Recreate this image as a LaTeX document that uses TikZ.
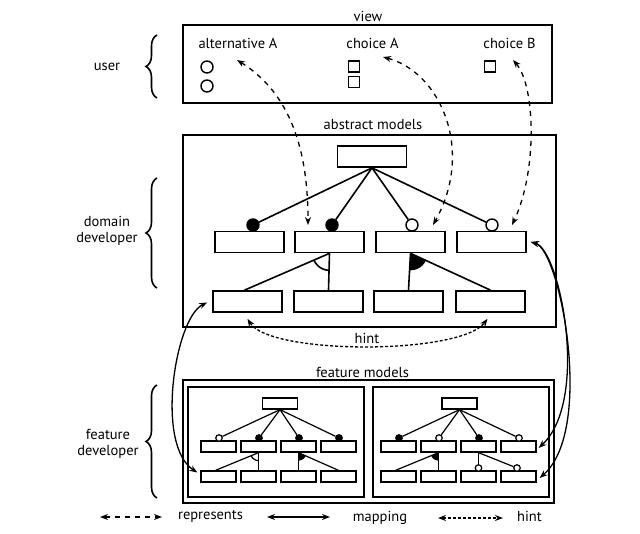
\documentclass[tikz,border=0pt]{standalone}
\usepackage{fontspec}
\setmainfont{PT Sans}
\usetikzlibrary{arrows.meta,decorations.pathreplacing}

\begin{document}
\begin{tikzpicture}[x=1pt, y=-1pt,
        font=\fontsize{14.5}{16}\selectfont,
        >={Stealth[length=8pt,width=6pt]},
        panel/.style={rectangle, draw, line width=1.7pt, inner sep=0pt},
        box/.style={rectangle, draw, line width=1.7pt, minimum width=69pt, minimum height=21pt, inner sep=0pt},
        minibox/.style={rectangle, draw, line width=1.3pt, minimum width=35pt, minimum height=11pt, inner sep=0pt},
        mand/.style={circle, draw, fill=black, line width=1.4pt, minimum size=12pt, inner sep=0pt},
        opt/.style={mand, fill=white},
        minimand/.style={circle, draw, fill=black, line width=1.2pt, minimum size=6.5pt, inner sep=0pt},
        miniopt/.style={minimand, fill=white},
        radio/.style={circle, draw, line width=1.4pt, minimum size=12pt, inner sep=0pt},
        check/.style={rectangle, draw, line width=1.4pt, minimum size=11pt, inner sep=0pt},
        link/.style={line width=1.6pt},
        minilink/.style={line width=1.2pt},
        represents/.style={<->, line width=1.3pt, dash pattern=on 5pt off 5pt},
        mapping/.style={<->, line width=1.3pt},
        hint/.style={<->, line width=1.3pt, dash pattern=on 3pt off 2pt},
        sidebrace/.style={decorate, decoration={brace, amplitude=11pt}, line width=1.6pt}
    ]
        \useasboundingbox (0,0) rectangle (640,533);

        % roles
        \node (user) at (107,67) {user};
        \node[align=center] (domdev) at (107,231) {domain\\developer};
        \node[align=center] (featdev) at (108,444) {feature\\developer};
        \draw[sidebrace] (157,98) -- (157,35);
        \draw[sidebrace] (157,288) -- (157,178);
        \draw[sidebrace] (157,498) -- (157,385);

        % view
        \node[panel, minimum width=369pt, minimum height=78pt] (view) at (367.5,64) {};
        \node (viewlabel) at (368,16) {view};
        \node (altA) at (238,43) {alternative A};
        \node (choiceA) at (372.5,43) {choice A};
        \node (choiceB) at (509.5,43) {choice B};
        \node[radio] (radio1) at (207,67) {};
        \node[radio] (radio2) at (207,86) {};
        \node[check] (checkA1) at (354,66.5) {};
        \node[check] (checkA2) at (354,82) {};
        \node[check] (checkB) at (490,66.5) {};

        % abstract models
        \node[panel, minimum width=373pt, minimum height=192pt] (abstract) at (369.5,231) {};
        \node (abstractlabel) at (373,125) {abstract models};
        \node[box] (root) at (372,156.5) {};
        \node[box] (a1) at (249.5,242) {};
        \node[box] (a2) at (329.5,242) {};
        \node[box] (a3) at (410.5,242) {};
        \node[box] (a4) at (491.5,242) {};
        \node[box] (c1) at (247.5,301.5) {};
        \node[box] (c2) at (328.5,301.5) {};
        \node[box] (c3) at (408.5,301.5) {};
        \node[box] (c4) at (490.5,301.5) {};
        \node[mand] (m1) at (253,225) {};
        \node[mand] (m2) at (332,225) {};
        \node[opt] (m3) at (412,225) {};
        \node[opt] (m4) at (492,225) {};
        \draw[link] (root.south) -- (m1);
        \draw[link] (root.south) -- (m2);
        \draw[link] (root.south) -- (m3);
        \draw[link] (root.south) -- (m4);
        \draw[link] (a2.south) -- ([xshift=-3pt]c1.north);
        \draw[link] (a2.south) -- (c2.north);
        \draw[link] (a3.south) -- (c3.north);
        \draw[link] (a3.south) -- (c4.north);
        \begin{scope}
            \clip (a2.south) -- ([xshift=-3pt]c1.north) -- (c2.north) -- cycle;
            \draw[link] (a2.south) circle[radius=17];
        \end{scope}
        \begin{scope}
            \clip (a3.south) -- (c3.north) -- (c4.north) -- cycle;
            \fill (a3.south) circle[radius=17];
        \end{scope}

        % feature models
        \node[panel, line width=1.4pt, minimum width=371pt, minimum height=123pt] (features) at (368.5,441.5) {};
        \node (featurelabel) at (362.5,372) {feature models};
        \node[panel, line width=1.4pt, minimum width=176pt, minimum height=110pt] (fmleft) at (276,442) {};
        \node[panel, line width=1.4pt, minimum width=176pt, minimum height=110pt] (fmright) at (461,442) {};

        % left feature model
        \node[minibox] (lroot) at (280,403.5) {};
        \node[minibox] (l1) at (218.5,446.5) {};
        \node[minibox] (l2) at (258.5,446.5) {};
        \node[minibox] (l3) at (298.5,446.5) {};
        \node[minibox] (l4) at (338.5,446.5) {};
        \node[minibox] (lc1) at (218.5,476.5) {};
        \node[minibox] (lc2) at (258.5,476.5) {};
        \node[minibox] (lc3) at (298.5,476.5) {};
        \node[minibox] (lc4) at (338.5,476.5) {};
        \node[miniopt] (lm1) at (219,438) {};
        \node[minimand] (lm2) at (259,438) {};
        \node[minimand] (lm3) at (299,438) {};
        \node[minimand] (lm4) at (339,438) {};
        \draw[minilink] (lroot.south) -- (lm1);
        \draw[minilink] (lroot.south) -- (lm2);
        \draw[minilink] (lroot.south) -- (lm3);
        \draw[minilink] (lroot.south) -- (lm4);
        \draw[minilink] (l2.south) -- ([xshift=-3pt]lc1.north);
        \draw[minilink] (l2.south) -- (lc2.north);
        \draw[minilink] (l3.south) -- (lc3.north);
        \draw[minilink] (l3.south) -- (lc4.north);
        \begin{scope}
            \clip (l2.south) -- ([xshift=-3pt]lc1.north) -- (lc2.north) -- cycle;
            \draw[minilink] (l2.south) circle[radius=8];
        \end{scope}
        \begin{scope}
            \clip (l3.south) -- (lc3.north) -- (lc4.north) -- cycle;
            \fill (l3.south) circle[radius=8];
        \end{scope}

        % right feature model
        \node[minibox] (rroot) at (459.5,403.5) {};
        \node[minibox] (r1) at (398.5,446.5) {};
        \node[minibox] (r2) at (438.5,446.5) {};
        \node[minibox] (r3) at (478.5,446.5) {};
        \node[minibox] (r4) at (518.5,446.5) {};
        \node[minibox] (rc1) at (398.5,476.5) {};
        \node[minibox] (rc2) at (438.5,476.5) {};
        \node[minibox] (rc3) at (478.5,476.5) {};
        \node[minibox] (rc4) at (518.5,476.5) {};
        \node[minimand] (rm1) at (399,438) {};
        \node[miniopt] (rm2) at (439,438) {};
        \node[minimand] (rm3) at (479,438) {};
        \node[miniopt] (rm4) at (519,438) {};
        \node[miniopt] (rm5) at (478.5,468) {};
        \node[miniopt] (rm6) at (517,468) {};
        \draw[minilink] (rroot.south) -- (rm1);
        \draw[minilink] (rroot.south) -- (rm2);
        \draw[minilink] (rroot.south) -- (rm3);
        \draw[minilink] (rroot.south) -- (rm4);
        \draw[minilink] (r2.south) -- ([xshift=-3pt]rc1.north);
        \draw[minilink] (r2.south) -- (rc2.north);
        \draw[minilink] (r3.south) -- (rm5);
        \draw[minilink] (r3.south) -- (rm6);
        \begin{scope}
            \clip (r2.south) -- ([xshift=-3pt]rc1.north) -- (rc2.north) -- cycle;
            \fill (r2.south) circle[radius=8];
        \end{scope}

        % represents
        \coordinate (pAltA) at (237,60);
        \coordinate (pChoiceA) at (383,57);
        \coordinate (pChoiceB) at (513,60);
        \coordinate (pA2) at (308,225);
        \coordinate (pA3) at (433,225);
        \coordinate (pA4) at (512,225);
        \draw[represents] (pAltA) .. controls (285,90) and (308,140) .. (pA2);
        \draw[represents] (pChoiceA) .. controls (440,72) and (475,150) .. (pA3);
        \draw[represents] (pChoiceB) .. controls (535,85) and (538,170) .. (pA4);

        % hint
        \draw[hint] ([yshift=-6pt]c1.south) .. controls (270,355) and (460,355) .. ([xshift=-3pt,yshift=-6pt]c4.south);
        \node (hintlabel) at (367,338) {hint};

        % mapping
        \draw[mapping] ([xshift=-5pt,yshift=-1pt]c1.west) .. controls (175,318) and (155,445) .. ([xshift=-3pt,yshift=4pt]lc1.west);
        \draw[mapping] ([xshift=4pt]a4.east) .. controls (560,250) and (590,400) .. ([xshift=2pt,yshift=-1.5pt]r4.east);
        \draw[mapping] ([xshift=4pt]a4.east) .. controls (560,250) and (595,430) .. ([xshift=3pt,yshift=-1.5pt]rc4.east);

        % legend
        \coordinate (rep0) at (100,517);
        \coordinate (rep1) at (162,517);
        \coordinate (map0) at (267,517);
        \coordinate (map1) at (330,517);
        \coordinate (hint0) at (438,518);
        \coordinate (hint1) at (503,518);
        \draw[represents] (rep0) -- (rep1);
        \draw[mapping] (map0) -- (map1);
        \draw[hint] (hint0) -- (hint1);
        \node (replabel) at (210.5,516) {represents};
        \node (maplabel) at (380,517.5) {mapping};
        \node (hintlegend) at (529.5,516) {hint};
    \end{tikzpicture}
\end{document}
